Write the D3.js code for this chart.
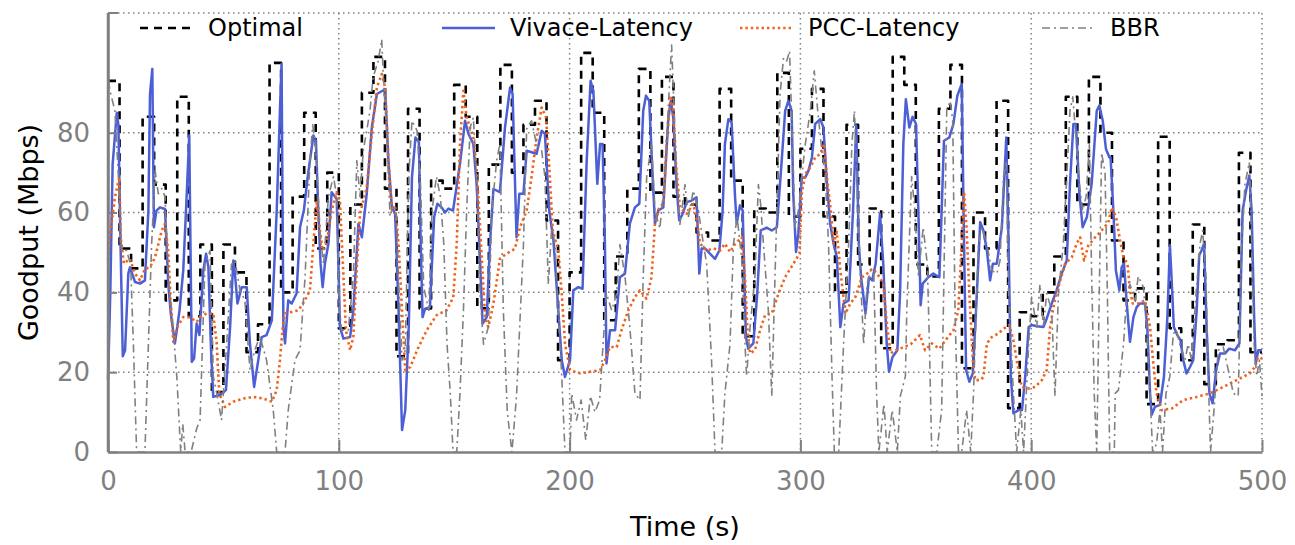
<!DOCTYPE html>
<html>
<head>
<meta charset="utf-8">
<script src="https://cdn.jsdelivr.net/npm/d3@7"></script>
<style>
  body { margin: 0; background: #fff; }
  svg { font-family: "DejaVu Sans", sans-serif; }
</style>
</head>
<body>
<script>
// ---- data (time in s, goodput in Mbps) ----
var optimal = [
  [0,93],[5,51],[10,46],[15,84],[20,67],[25,38],[30,89],[35,34],[40,52],[45,15],
  [50,52],[55,45],[60,25],[65,32],[70,97.5],[75,40],[80,64],[85,85],[90,51],[95,70],
  [100,31],[105,62],[110,90],[115,99],[120,66],[125,24],[130,86],[135,36],[140,68],[145,66],
  [150,92],[155,84],[160,36],[165,72],[170,97],[175,70],[180,82],[185,88],[190,58],[195,23],
  [200,45],[205,100],[210,85],[215,33],[220,49],[225,66],[230,96],[235,65],[240,94],[245,64],
  [250,62],[255,55],[260,53],[265,91],[270,68],[275,29],[280,61],[285,60],[290,95],[295,59],
  [300,76],[305,91],[310,59],[315,40],[320,82],[325,47],[330,61],[335,26],[340,99],[345,92],
  [350,47],[355,44],[360,86],[365,97],[370,21],[375,60],[380,51],[385,88],[390,11],[395,35],
  [400,34],[405,40],[410,49],[415,89],[420,62],[425,94],[430,80],[435,53],[440,38],[445,41],
  [450,12],[455,79],[460,31],[465,23],[470,57],[475,17],[480,27],[485,28],[490,75],[495,25],
  [500,25]
];

var vivace = [
  [0,18],[1,40],[2,72],[3.8,85],[4.5,82],[5.5,50],[6.4,24],[7.4,25.5],[8.8,44.7],[9.5,46.3],
  [11.7,42.6],[13.9,42.2],[16,43],[17.5,60.5],[18.2,89.7],[19.2,96],[19.9,56.3],[21,60.5],[22.5,61.3],[24.7,60.9],
  [26.1,42.2],[27.2,34.7],[29,27.2],[31,35.5],[32.6,45.5],[33.8,60.5],[35.2,79.3],[36.3,22.6],[37.3,23.4],[38.4,32.2],
  [39.6,29.3],[41.3,45.5],[42.5,49.7],[43.5,46.3],[44.6,26.3],[45.6,13.8],[48.5,14.3],[51.1,15.5],[52.9,31.3],[54.3,48],
  [55,44.7],[56.1,37.2],[57.9,41.3],[60.1,41.3],[61.5,27.2],[63.3,16.3],[65.1,23],[66.6,28.8],[68.7,29.3],[71,33],
  [73.1,60.5],[74.5,85.5],[75.2,97.2],[76,31.3],[76.7,27.2],[78.1,38],[79.6,37.2],[81.7,39.7],[83.2,56.3],[84.9,60.7],
  [86.5,68.8],[89,79.3],[90.1,78],[91.1,60.5],[92.1,47.2],[93,41.3],[94,47.2],[95.5,52.2],[96.9,65.1],[99.1,63.4],
  [100.5,31.3],[102,28.4],[104.9,28.8],[106.3,35.5],[108.5,57.2],[110,53.8],[112.1,64.7],[114.3,81.3],[116.5,89.7],[120.1,90.9],
  [121.5,73],[123,61.3],[124.4,59.7],[125.9,35.5],[127.4,5.5],[128.8,10.5],[130.3,31.3],[131.7,68.8],[133.2,78.8],[134.7,77.6],
  [135.5,52.2],[136.3,33.8],[137.4,35.9],[139.5,36.3],[141.3,58.8],[142.7,62.2],[144.6,61.3],[146,60],[147.5,61],[149.5,60.5],
  [152.5,72.2],[154.7,83],[156.2,79.7],[158.3,77.2],[159.7,67.2],[161.2,48],[162.3,32.2],[164.1,33.8],[165.5,52.2],[167,65.9],
  [169.8,65.1],[172,81.3],[174.2,91.3],[175.3,89.7],[177,53.8],[178.2,64.7],[180,64.7],[181.4,75.5],[183.5,75.1],[185.7,74.7],
  [187.9,80.5],[189.3,79.7],[191.2,60.5],[193,53],[195.1,35.5],[196.6,23],[198,18.8],[200.2,23],[201.6,40.5],[203.8,41.3],
  [205.6,40.9],[207.4,73],[209.1,93],[210.3,90.5],[212,67.2],[213.2,77.2],[214.3,77.2],[215.3,52.2],[216,22.2],[217.5,30.5],
  [219.7,30.5],[221.8,43.8],[224,44.7],[226.1,57.2],[228.3,61.3],[230.2,62.2],[231.9,85.5],[233.1,89.3],[234.5,88],[236,68.8],
  [237,57.2],[238.4,60.5],[240.6,61.3],[242.8,83.8],[243.9,88],[244.9,83.8],[246.4,66.3],[247.5,58],[249,59.7],[250.7,62.6],
  [252.9,63],[255,63.8],[256.2,44.7],[257.2,51],[258.7,51],[260.8,49.7],[263,48.4],[264.9,50.5],[266.3,60.5],[267.3,77.2],
  [268.8,83.4],[270.2,82.6],[271.7,63.8],[272.4,57.2],[273.8,61.8],[275,60.5],[276.4,28.8],[277.4,25.9],[279.6,27.2],[281.3,39.7],
  [282.8,55.5],[285.4,56.2],[287.6,55.5],[289.8,56.3],[291.9,73],[293.4,85.5],[294.8,88],[296.2,85.5],[296.9,64.7],[298.1,50.1],
  [299.1,54.7],[300.6,68.8],[302.1,68.8],[303.5,70.5],[305,73.8],[306.4,82.2],[308.6,83.4],[310,81.3],[311.5,67.2],[312.9,57.2],
  [314.4,52.2],[315.8,48.8],[317.3,31.3],[318.7,37.2],[320.9,38],[322.8,60.5],[324.2,81.8],[325.3,52.2],[326.3,43.8],[328.2,34.7],
  [329.7,43.8],[331.1,43],[332.6,47.2],[334.5,59.7],[335.9,47.2],[337.4,27.2],[338.4,20.1],[339.9,23.8],[342,25.5],[343.2,40],
  [344.6,77.2],[345.7,88.4],[347.2,81.3],[348.6,84],[350.1,82.2],[351.1,60.5],[352.1,36.8],[353,42.2],[355.4,43.8],[357.6,44.7],
  [360.2,43.8],[361.2,60.5],[362.2,78],[364.5,78.8],[366.3,82.2],[368,89.3],[369.9,92.2],[370.9,52.2],[371.8,20.5],[373.2,17.6],
  [374.7,19.7],[376.1,35.5],[377.9,57.6],[379.3,55.5],[380.8,50.5],[382.2,43],[383.4,47.2],[385.1,47.2],[387.3,56.3],[389.2,78.8],
  [390.2,52.2],[391.2,18.8],[392.3,9.7],[394.5,10.5],[396,10.5],[397.4,18.8],[398.9,31.3],[400.2,31.8],[402.5,31.5],[405.3,31.3],
  [406.7,33.4],[408.9,37.2],[411,40.5],[413.2,44.7],[415.4,48],[416.8,67.2],[418.3,82.2],[419.4,82.2],[420.9,64.7],[422.3,56.3],
  [424.1,58.8],[426.2,67.2],[428.4,85.5],[429.5,86.8],[431,83],[432.4,75.9],[433.9,73.8],[434.4,73.8],[435.6,60.5],[436.7,45.5],
  [438.2,40.5],[439.2,46.3],[440.2,47.2],[441.4,37.2],[442.8,27.6],[444.3,33.8],[445.7,36.3],[447.1,37.2],[449.3,37.2],[450.3,31.3],
  [451.5,14.7],[452.2,9.3],[453.6,11.3],[455.8,11.8],[457.5,18.8],[459,33.8],[460.1,51.8],[460.8,43.8],[461.8,31.3],[463.3,29.3],
  [464.7,28],[465.9,23],[467.3,19.7],[468.8,21.3],[470.2,23],[471.7,35.5],[472.8,49.3],[473.8,50.5],[474.9,52.2],[476,31.3],
  [477.2,14.7],[478.6,12.2],[480.1,20.5],[481.8,24.7],[484,24.7],[485.8,25.9],[488.3,25.5],[490.2,27.2],[491.6,60.5],[493.1,65.5],
  [494.5,69.3],[495.5,60.5],[496.6,33.8],[497.3,22.2],[498.4,25.5],[500,25.5]
];

var pcc = [
  [0,48],[1,55],[3,63.8],[4.9,68.8],[5.5,53.8],[6.9,47.2],[9.5,48.4],[11.7,44.7],[13.9,43],[16,45.9],
  [18.2,46.3],[20.4,48.8],[23.3,55.5],[24.7,57.2],[26.1,50.5],[27.2,37.2],[28.3,27.6],[30,31.3],[32.6,33.8],[35.5,33.8],
  [38.4,32.6],[39.9,33.8],[42.7,34.7],[45.6,34.7],[47.1,27.2],[48.2,14.7],[50.7,11.3],[54.3,12.6],[58.6,13.4],[63,13.8],
  [67.3,13.4],[71,12.6],[73.1,15.5],[74.5,23],[75.7,31.3],[76.7,34.7],[79.6,35.1],[82.5,35.5],[84.9,37.6],[87.5,40.5],
  [89,52.2],[90.4,63],[91.6,56.3],[93,50.5],[94.7,52.2],[96.9,60.5],[99.1,65.1],[100.5,63],[101.7,48],[103.1,30.5],
  [104.9,25.5],[106.3,28.8],[107.8,46.3],[109.2,59.7],[112.1,66.3],[114.3,79.7],[116.5,91.3],[118.6,94.7],[120.1,91.3],[121.5,73],
  [123,60.5],[124.4,61.8],[125.9,52.2],[127.4,35.5],[128.8,20.5],[131,21.3],[133.9,25.5],[138.1,30.5],[142.4,34.3],[146.7,35.5],
  [149.6,38.8],[151.1,52.2],[152.5,77.2],[154,90.5],[155.4,83.8],[158.3,78.8],[159.7,71.3],[161.2,56.3],[163.4,33.8],[164.8,31.3],
  [167,37.2],[169.8,48.4],[172.7,49.7],[176.3,50.9],[178.5,56.3],[181.4,60.5],[183.5,68.8],[185.7,78.8],[187.9,86.3],[189.8,83.8],
  [191.2,71.3],[192.7,55.5],[195.1,50.5],[196.6,39.7],[198,27.2],[200.2,20.5],[204.5,19.7],[208.8,20.1],[213.2,20.5],[215.3,23],
  [217.5,26.3],[220.4,26.3],[222.5,30.5],[225.4,35.5],[228.3,38.8],[230.5,40.5],[233.3,38.4],[235.5,43.8],[237,57.2],[238.8,61.3],
  [240.6,62.2],[242,77.2],[243.8,89.3],[244.9,86.3],[246.1,72.2],[247.8,61.3],[250.7,59.7],[253.6,62.2],[255.4,57.2],[256.5,52.2],
  [259.4,50.5],[262.3,51],[265.2,50.5],[267.3,52.2],[269.5,50.1],[271.7,52.2],[274.6,53.8],[276,43.8],[277,31.3],[278.2,24.7],
  [280.3,25.5],[282.5,30.5],[284.7,34.3],[287.6,34.7],[290.5,39.7],[293.4,43.8],[297,47.2],[299.6,49.7],[300.6,64.7],[302.1,69.7],
  [304.3,71.3],[306.4,73.8],[308.6,74.7],[310.3,77.2],[311.5,68.8],[313.2,60.5],[314.4,52.2],[315.8,55.1],[317.3,45.5],[319.5,34.7],
  [321.6,37.2],[323.8,38.8],[326.7,43.8],[328.9,44.7],[331.1,45.9],[333.3,44.7],[335.9,42.2],[337.6,31.3],[339.1,24.7],[341.3,25.5],
  [344.9,26.3],[347.8,27],[351.8,29.3],[354,25.5],[356.9,27.2],[360.2,25.9],[363.4,28.4],[366.3,30.5],[368.4,35.5],[369.9,52.2],
  [370.9,65.1],[372,56.3],[373.2,39.7],[374.7,23],[375.7,18],[377.9,18],[379.3,18.8],[380.8,27.2],[382.9,28.8],[385.8,29.7],
  [388,30.9],[390.5,31.8],[392.3,28],[393.7,23],[395.9,16.3],[398.8,15.9],[401.7,16.3],[404.6,18],[406.7,20.5],[408.2,31.3],
  [409.9,37.2],[412.2,42.2],[414.7,47.2],[417.6,48.8],[419.7,52.2],[421.2,53.8],[422.9,48],[424.8,51.8],[427.7,53.8],[430.5,55.5],
  [433.4,57.5],[434.9,61.3],[436.8,58.8],[438.5,53],[440,48.8],[441.7,47.2],[442.8,40.5],[444,37.2],[446.4,37.2],[449.3,38],
  [451.5,31.3],[452.9,22.2],[454.3,14.7],[456.6,10.5],[460.9,10.9],[465.9,13],[471.7,13.8],[477.5,14.7],[483.2,16.3],[489,18],
  [494.7,19.7],[496.9,21.3],[498.3,23.8],[500,23.4]
];

var bbr = [
  [0,93],[1.5,89],[3,85.5],[4.5,69],[5.9,50.5],[8,50.5],[9.8,47],[11,27],[12.4,0],[16,0],
  [17.5,27],[18.9,52],[20.4,70.5],[21.8,64.7],[23.3,66],[24.7,64],[26.1,44],[27.6,35.5],[29.8,19],[31.5,0],
  [32.4,7],[33.4,0],[36,0],[38.5,6],[39.9,8],[42,47],[44.2,50.5],[45.6,19],[47.1,14.7],[49.2,8],
  [51.4,27],[53.5,47],[55,48],[57.2,40.5],[59.3,38],[61.5,20.5],[63.6,25.5],[65.8,29],[68.7,23],[71.6,10.5],
  [73.1,0],[76.7,0],[78.1,10.5],[81,23],[83.2,25.5],[85.4,44],[87.5,73],[88.7,82],[90.1,75.5],[91.1,64],
  [92,54],[93.4,47],[95.5,64],[97.7,69],[99.1,64],[100.3,35.5],[101.3,30.5],[104.1,30.5],[106.3,44],[107.8,73],
  [109.2,64],[110.6,75.5],[112.1,80.5],[113.5,85.5],[114.9,94],[117.1,98],[118.6,103.4],[119.3,94],[120.8,79],[122.2,59],
  [123.6,62],[125.1,59],[125.8,44],[127.4,23],[128.8,25.5],[130.3,69],[131.7,83],[133.9,80.5],[135.4,67],[136.8,41.3],
  [139,35.5],[140.4,60.5],[142.3,69],[144,64],[145.5,52],[146.9,27],[148.3,14.7],[149.5,0],[151.1,0],[152.5,14.7],
  [154,35.5],[155.4,60.5],[156.9,81.3],[158.3,83.8],[159.7,69],[161.2,39.7],[162.7,27],[164.8,31.3],[166.3,60.5],[168.4,73],
  [169.8,77.2],[171.3,35.5],[173,10],[175,0],[177,14],[180,52],[181.4,81],[183.5,83],[185.7,77],[187.9,75.5],
  [189.3,69],[190.8,42],[192.2,56],[193.7,52],[195.1,35.5],[196.6,19],[198,0],[200.2,0],[200.9,14.7],[203,8],
  [205,13],[207,3],[209,14],[211,10],[213,13],[214.5,27],[216,39.7],[218.2,35.5],[220.4,39.7],[221.8,52],
  [224,44],[226.1,31.3],[228.3,14.7],[230.5,13],[231.9,44],[233.4,69],[235.5,77],[237,60.5],[239.1,56],[241.3,69],
  [242.8,87],[244.2,102],[245.3,85.5],[246.4,69],[247.8,57],[250,67],[251.5,59],[253.6,65.5],[255.8,60.5],[258,52],
  [259.4,47],[261.5,23],[263,0],[265.9,0],[267.3,14.7],[269.5,27],[271,52],[272.6,59],[274.6,48],[276,27],
  [276.7,19],[278.2,31.3],[280.3,44],[281.8,67],[282.8,62],[284,52],[286.1,35.5],[287.6,14],[289,44],[291.2,89.7],
  [292.7,98.8],[294.1,98],[295.3,100.5],[296.6,77],[297.7,56.3],[299.1,60.5],[300.6,69],[302.1,77],[304.3,85.5],[306,95.5],
  [307.5,85.5],[309.3,75.5],[310.8,69],[312.2,52],[313.7,19],[314.7,0],[316.6,0],[318.7,27],[320.9,52],[322.3,77],
  [323.4,85.5],[324.5,69],[326,44],[327.4,27],[328.9,42],[330.4,45.5],[331.8,44.7],[333,14.7],[334,0],[336.2,12],
  [337.6,0],[339.8,10.5],[342,0],[343.3,14],[345.5,19],[346.1,35.5],[348.2,69],[349.6,60.5],[351.1,44],[353.2,56.3],
  [355,47],[355.9,27],[356.9,0],[359.1,0],[361.2,10.5],[363.4,85.5],[364.9,88],[366,83],[367,35.5],[368.5,0],
  [369.9,0],[372,10.5],[373.8,0],[375,14.7],[377.1,52],[378.6,56.3],[380.8,52],[382.9,45.5],[385.1,44.7],[386.5,48],
  [388,69],[389.2,73],[390.2,39.7],[392.3,14.7],[393.7,0],[395.5,10.5],[396.7,0],[398.9,27],[400.2,38.8],[402.4,31.3],
  [403.8,42],[405.3,31.3],[406.7,39.7],[408.9,35.5],[410.3,14],[411.8,39.7],[413.9,52],[415.4,69],[416.8,85.5],[418,89],
  [419.4,79],[420.9,67],[422.3,60.5],[423.8,64],[425.2,77],[426.2,44],[427.3,14.7],[428.4,0],[429.5,40],[430.5,75],
  [432,70],[433,40],[434,0],[436,0],[436.4,14.7],[437.8,15.5],[440,27],[441.4,39.7],[442.8,42],[445,38],
  [446.4,44],[448.6,41.3],[450,31.3],[451.5,14.7],[452.6,0],[454.3,2],[455.8,10.5],[456.9,0],[458.4,14.7],[460.1,19],
  [461.6,29.7],[463,30.5],[464.4,27],[466.6,23],[468,27],[469.5,23],[470.9,35.5],[473.1,52],[474.3,55.5],[475.7,44],
  [476.7,19],[477.7,0],[479.2,10.5],[481,25.5],[483.2,26.3],[485.4,20.5],[487.6,14.7],[489.7,14],[491.2,52],[492.6,67],
  [494.5,72.6],[495.5,52],[496.6,27],[497.7,19],[498.9,23],[500,14]
];

var xTicks = [0, 100, 200, 300, 400, 500];
var yTicks = [0, 20, 40, 60, 80];
var seriesNames = ["Optimal", "Vivace-Latency", "PCC-Latency", "BBR"];

(function() {
  // ---- layout ----
  var width = 1295, height = 545;
  var plotLeft = 108, plotRight = 1262, plotTop = 13, plotBottom = 452;
  var grey = "#808080";

  var styles = {
    "Optimal":        { color: "#000000", width: 2.6, dash: "8,6" },
    "Vivace-Latency": { color: "#4c5fd5", width: 2.5, dash: null },
    "PCC-Latency":    { color: "#f0621a", width: 2.6, dash: "2.4,3" },
    "BBR":            { color: "#808080", width: 1.6, dash: "8,4,2,4" }
  };

  var svg = d3.select("body").append("svg")
      .attr("width", width)
      .attr("height", height);

  var x = d3.scaleLinear().domain([0, 500]).range([plotLeft, plotRight]);
  var y = d3.scaleLinear().domain([0, 110]).range([plotBottom, plotTop]);

  // grid lines (dotted)
  var grid = svg.append("g").attr("stroke", grey).attr("stroke-width", 1.5)
      .attr("stroke-dasharray", "1.5,3.5");
  grid.selectAll("line.v").data(xTicks.slice(1, -1)).enter().append("line")
      .attr("x1", d => x(d)).attr("x2", d => x(d))
      .attr("y1", plotTop).attr("y2", plotBottom);
  grid.selectAll("line.h").data(yTicks.slice(1)).enter().append("line")
      .attr("x1", plotLeft).attr("x2", plotRight)
      .attr("y1", d => y(d)).attr("y2", d => y(d));
  // top and right border, dotted too
  grid.append("line").attr("x1", plotLeft).attr("x2", plotRight).attr("y1", plotTop).attr("y2", plotTop);
  grid.append("line").attr("x1", plotRight).attr("x2", plotRight).attr("y1", plotTop).attr("y2", plotBottom);

  // series
  var lines = {
    "Optimal": optimal,
    "Vivace-Latency": vivace,
    "PCC-Latency": pcc,
    "BBR": bbr
  };

  var plot = svg.append("g");
  seriesNames.forEach(function(name) {
    var st = styles[name];
    var line = d3.line()
        .x(d => x(d[0]))
        .y(d => y(d[1]))
        .curve(name === "Optimal" ? d3.curveStepAfter : d3.curveLinear);
    plot.append("path")
        .datum(lines[name])
        .attr("fill", "none")
        .attr("stroke", st.color)
        .attr("stroke-width", st.width)
        .attr("stroke-dasharray", st.dash)
        .attr("stroke-linejoin", "round")
        .attr("d", line);
  });

  // axes
  var xAxis = svg.append("g")
      .attr("transform", "translate(0," + plotBottom + ")")
      .call(d3.axisBottom(x).tickValues(xTicks).tickSizeInner(-12).tickSizeOuter(0).tickPadding(20));
  var yAxis = svg.append("g")
      .attr("transform", "translate(" + plotLeft + ",0)")
      .call(d3.axisLeft(y).tickValues(yTicks).tickSizeInner(-9).tickSizeOuter(0).tickPadding(18));

  [xAxis, yAxis].forEach(function(ax) {
    ax.select(".domain").attr("stroke", grey).attr("stroke-width", 2.5);
    ax.selectAll(".tick line").attr("stroke", grey).attr("stroke-width", 2);
    ax.selectAll(".tick text")
        .attr("fill", grey)
        .style("font-size", "26px")
        .style("font-family", "DejaVu Sans");
  });
  // the left axis reaches the top border
  svg.append("line").attr("x1", plotLeft).attr("x2", plotLeft).attr("y1", plotTop).attr("y2", plotBottom)
      .attr("stroke", grey).attr("stroke-width", 2.5);
  svg.append("line").attr("x1", plotLeft).attr("x2", plotLeft + 10).attr("y1", plotTop).attr("y2", plotTop)
      .attr("stroke", grey).attr("stroke-width", 2);

  // axis titles
  svg.append("text")
      .attr("x", (plotLeft + plotRight) / 2).attr("y", 536)
      .attr("text-anchor", "middle")
      .style("font-size", "27px")
      .text("Time (s)");
  svg.append("text")
      .attr("transform", "translate(38," + (plotTop + plotBottom) / 2 + ") rotate(-90)")
      .attr("text-anchor", "middle")
      .style("font-size", "27px")
      .text("Goodput (Mbps)");

  // legend
  var legendX = { "Optimal": 140, "Vivace-Latency": 442, "PCC-Latency": 740, "BBR": 1042 };
  var legend = svg.append("g");
  seriesNames.forEach(function(name) {
    var st = styles[name];
    var lx = legendX[name];
    legend.append("line")
        .attr("x1", lx).attr("x2", lx + 53)
        .attr("y1", 28).attr("y2", 28)
        .attr("stroke", st.color)
        .attr("stroke-width", st.width)
        .attr("stroke-dasharray", st.dash);
    legend.append("text")
        .attr("x", lx + 68).attr("y", 28)
        .attr("dy", "0.35em")
        .style("font-size", "24px")
        .text(name);
  });
})();
</script>
</body>
</html>
